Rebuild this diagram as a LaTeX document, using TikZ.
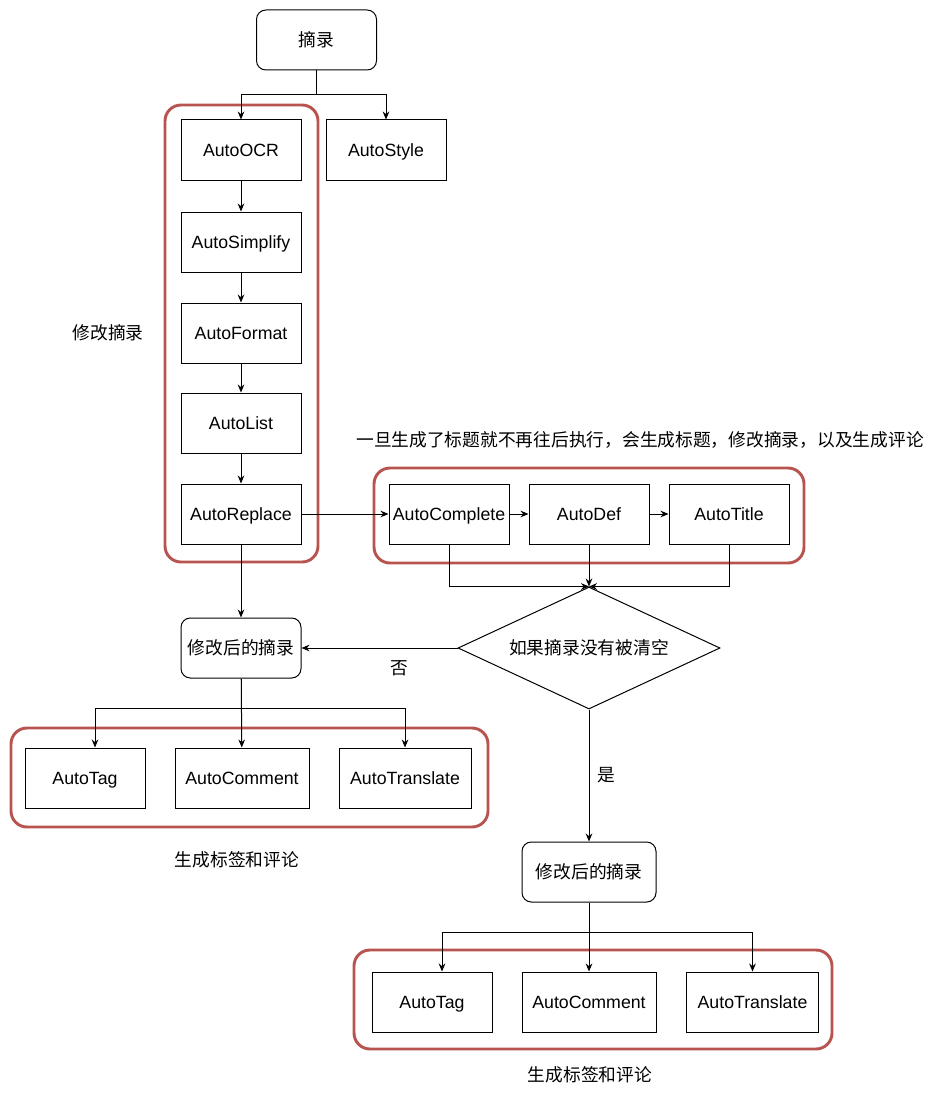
\documentclass[tikz,border=0pt]{standalone}
\usepackage{fontspec}
\setmainfont{Liberation Sans}
\newfontfamily\cjk{Noto Sans CJK SC}
\usetikzlibrary{arrows.meta,shapes.geometric}
\definecolor{groupred}{HTML}{B85450}
\begin{document}
\begin{tikzpicture}[x=0.75pt, y=-0.75pt, line width=0.75pt,
    font=\fontsize{13.3}{16}\selectfont,
    cn/.style={font=\cjk\fontsize{13.3}{16}\selectfont},
    box/.style={draw, minimum width=90pt, minimum height=45pt, inner sep=0pt,
        text height=9.5pt, text depth=0pt},
    rbox/.style={box, cn, rounded corners=7pt},
    group/.style={draw=groupred, line width=2.2pt, rounded corners=12pt},
    arr/.style={-{Stealth[length=6pt,width=5pt]}}]
\useasboundingbox (0,0) rectangle (946,1102);
% groups
\draw[group] (165,105) rectangle (318,562);
\draw[group] (374,468) rectangle (804,563);
\draw[group] (11,728) rectangle (488,827);
\draw[group] (354,950) rectangle (832,1049);
% first column
\node[rbox] (src) at (316.5,40) {摘录};
\node[box] (ocr) at (241,150) {AutoOCR};
\node[box] (style) at (386,150) {AutoStyle};
\node[box] (simp) at (241,242) {AutoSimplify};
\node[box] (fmt) at (241,333) {AutoFormat};
\node[box] (list) at (241,423) {AutoList};
\node[box] (repl) at (241,514) {AutoReplace};
\node[cn] (lblmod) at (108,333) {修改摘录};
\coordinate (fork0) at (316.5,95);
\draw (src) -- (fork0);
\draw[arr] (fork0) -| (ocr.north);
\draw[arr] (fork0) -| (style.north);
\foreach \a/\b in {ocr/simp, simp/fmt, fmt/list, list/repl}
    \draw[arr] (\a) -- (\b);
% title chain
\node[cn] (lblnote) at (640,440) {一旦生成了标题就不再往后执行，会生成标题，修改摘录，以及生成评论};
\node[box] (compl) at (449,514) {AutoComplete};
\node[box] (def) at (589,514) {AutoDef};
\node[box] (title) at (729,514) {AutoTitle};
\draw[arr] (repl) -- (compl);
\draw[arr] (compl) -- (def);
\draw[arr] (def) -- (title);
\node[draw, diamond, cn, aspect=2.15, inner sep=0pt, minimum width=196.5pt, minimum height=91.5pt] (check) at (589,648) {如果摘录没有被清空};
\draw[arr] (compl.south) |- (check.north);
\draw[arr] (title.south) |- (check.north);
\draw[arr] (def) -- (check);
% left branch
\node[rbox] (mod1) at (241,648) {修改后的摘录};
\draw[arr] (repl) -- (mod1);
\draw[arr] (check.west) -- (mod1.east) node[cn, pos=0.37, below=6pt] {否};
\node[box] (tag1) at (85,778) {AutoTag};
\node[box, minimum width=100.5pt] (com1) at (242,778) {AutoComment};
\node[box, minimum width=99pt] (tra1) at (405,778) {AutoTranslate};
\node[cn] (lblgen1) at (237,860) {生成标签和评论};
\coordinate (fork1) at (241,708);
\draw (mod1) -- (fork1);
\draw[arr] (fork1) -| ([xshift=7.5pt]tag1.north);
\draw[arr] (mod1) -- (com1);
\draw[arr] (fork1) -| (tra1.north);
% right branch
\node[rbox, minimum width=100.5pt] (mod2) at (589,872) {修改后的摘录};
\draw[arr] (check.south) -- (mod2.north) node[cn, midway, right=3pt] {是};
\node[box] (tag2) at (432,1002) {AutoTag};
\node[box, minimum width=100.5pt] (com2) at (589,1002) {AutoComment};
\node[box, minimum width=98.5pt] (tra2) at (752.5,1002) {AutoTranslate};
\node[cn] (lblgen2) at (590,1075) {生成标签和评论};
\coordinate (fork2) at (589,932);
\draw (mod2) -- (fork2);
\draw[arr] (fork2) -| ([xshift=7.5pt]tag2.north);
\draw[arr] (mod2) -- (com2);
\draw[arr] (fork2) -| (tra2.north);
\end{tikzpicture}
\end{document}
